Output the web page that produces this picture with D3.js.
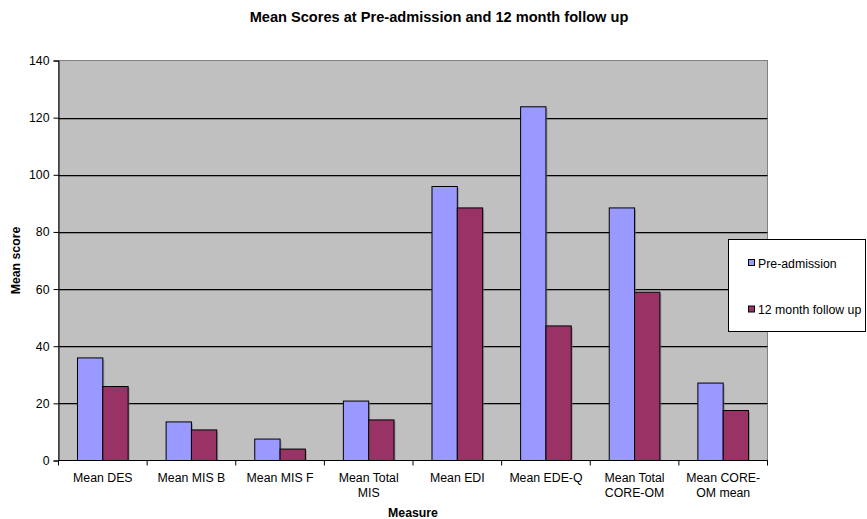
<!DOCTYPE html>
<html>
<head>
<meta charset="utf-8">
<script src="https://cdn.jsdelivr.net/npm/d3@7"></script>
<style>
  html, body { margin: 0; padding: 0; background: #fff; }
  svg { display: block; font-family: "Liberation Sans", Arial, sans-serif; }
</style>
</head>
<body>
<svg id="chart" width="867" height="519"></svg>
<script>
// Measures (each label split into display lines)
const categories = [
  ["Mean DES"],
  ["Mean MIS B"],
  ["Mean MIS F"],
  ["Mean Total", "MIS"],
  ["Mean EDI"],
  ["Mean EDE-Q"],
  ["Mean Total", "CORE-OM"],
  ["Mean CORE-", "OM mean"]
];
const seriesNames = ["Pre-admission", "12 month follow up"];
const preAdmission = [35.9, 13.5, 7.5, 20.8, 95.9, 123.8, 88.4, 27.1];
const followUp12 = [25.9, 10.7, 4.0, 14.2, 88.4, 47.1, 58.9, 17.5];
const yTicks = [0, 20, 40, 60, 80, 100, 120, 140];
const colors = ["#9999FF", "#993366"];

const svg = d3.select("#chart");
const plot = { left: 58.5, right: 767.5, top: 60.5, bottom: 460.5 };
const labelSize = 12.3;

const keys = categories.map((c, i) => i);
const x = d3.scaleBand().domain(keys).range([plot.left, plot.right]);
// 150% gap width: two bars + 1.5 bar widths per category
const barW = x.bandwidth() / 3.5;
const y = d3.scaleLinear().domain([0, 140]).range([plot.bottom, plot.top]);

// plot area background
svg.append("rect")
  .attr("x", plot.left).attr("y", plot.top)
  .attr("width", plot.right - plot.left).attr("height", plot.bottom - plot.top)
  .attr("fill", "#C0C0C0").attr("stroke", "#808080").attr("stroke-width", 1);

// gridlines with a faint shadow
const grid = svg.append("g");
yTicks.filter(t => t > 0 && t < 140).forEach(t => {
  grid.append("line")
    .attr("x1", plot.left).attr("x2", plot.right)
    .attr("y1", Math.round(y(t)) + 1.5).attr("y2", Math.round(y(t)) + 1.5)
    .attr("stroke", "#8a8a8a").attr("stroke-width", 1);
  grid.append("line")
    .attr("x1", plot.left).attr("x2", plot.right)
    .attr("y1", Math.round(y(t)) + 0.5).attr("y2", Math.round(y(t)) + 0.5)
    .attr("stroke", "#000").attr("stroke-width", 1);
});

// bars
const data = [preAdmission, followUp12];
const bars = svg.append("g");
data.forEach((vals, s) => {
  vals.forEach((v, i) => {
    const x0 = x(i) + 0.75 * barW + s * barW;
    bars.append("rect")
      .attr("x", x0 + 1.5).attr("y", y(v) + 1.5)
      .attr("width", barW).attr("height", y(0) - y(v) - 1.5)
      .attr("fill", "#7a7a7a").attr("opacity", 0.6);
  });
});
data.forEach((vals, s) => {
  vals.forEach((v, i) => {
    const x0 = x(i) + 0.75 * barW + s * barW;
    bars.append("rect")
      .attr("x", x0).attr("y", y(v))
      .attr("width", barW).attr("height", y(0) - y(v))
      .attr("fill", colors[s]).attr("stroke", "#000").attr("stroke-width", 1);
  });
});

// y axis
const yAxis = d3.axisLeft(y).tickValues(yTicks).tickSize(5).tickPadding(4);
const yG = svg.append("g").attr("transform", `translate(${plot.left},0)`).call(yAxis);
yG.select(".domain").attr("stroke", "#000");
yG.selectAll(".tick line").attr("stroke", "#000");
yG.selectAll(".tick text").attr("font-size", labelSize).attr("fill", "#000")
  .attr("font-family", "Liberation Sans, Arial, sans-serif");

// x axis with ticks at category boundaries
const xAxisG = svg.append("g").attr("transform", `translate(0,${plot.bottom})`);
xAxisG.append("line").attr("x1", plot.left).attr("x2", plot.right)
  .attr("y1", 0).attr("y2", 0).attr("stroke", "#000");
keys.concat([keys.length]).forEach(i => {
  const xx = i < keys.length ? x(i) : plot.right;
  xAxisG.append("line").attr("x1", xx).attr("x2", xx).attr("y1", 0).attr("y2", 5).attr("stroke", "#000");
});
categories.forEach((lines, i) => {
  const t = xAxisG.append("text")
    .attr("text-anchor", "middle").attr("font-size", labelSize).attr("fill", "#000");
  lines.forEach((ln, k) => {
    t.append("tspan").attr("x", x(i) + x.bandwidth() / 2).attr("y", 21 + k * 15).text(ln);
  });
});

// title and axis titles
svg.append("text").attr("x", 439).attr("y", 21.5).attr("text-anchor", "middle")
  .attr("font-size", 14.6).attr("font-weight", "bold").text("Mean Scores at Pre-admission and 12 month follow up");
svg.append("text").attr("x", (plot.left + plot.right) / 2).attr("y", 517).attr("text-anchor", "middle")
  .attr("font-size", labelSize).attr("font-weight", "bold").text("Measure");
svg.append("text").attr("transform", `translate(19.5,${(plot.top + plot.bottom) / 2}) rotate(-90)`)
  .attr("text-anchor", "middle").attr("font-size", labelSize).attr("font-weight", "bold").text("Mean score");

// legend
const lg = svg.append("g");
lg.append("rect").attr("x", 728.5).attr("y", 239.5).attr("width", 137).attr("height", 92)
  .attr("fill", "#fff").attr("stroke", "#000").attr("stroke-width", 1);
seriesNames.forEach((name, s) => {
  const cy = 263 + s * 46.5;
  lg.append("rect").attr("x", 748.5).attr("y", cy - 3.5).attr("width", 6).attr("height", 6)
    .attr("fill", colors[s]).attr("stroke", "#000").attr("stroke-width", 1);
  lg.append("text").attr("x", 758).attr("y", cy + 4.5).attr("font-size", labelSize).text(name);
});
</script>
</body>
</html>
